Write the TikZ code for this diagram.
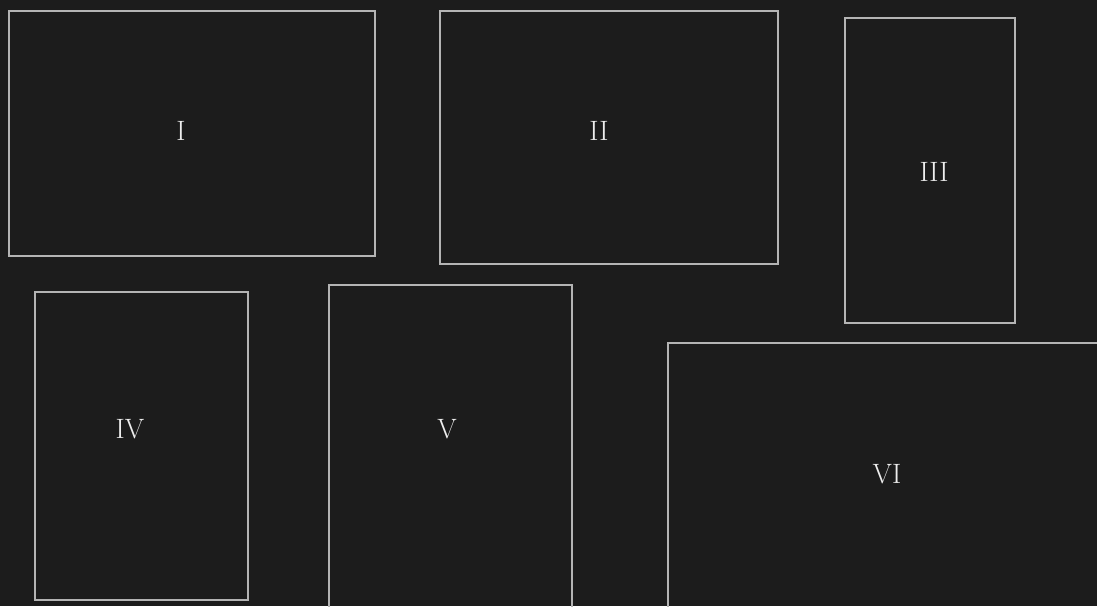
\documentclass[tikz,border=0pt]{standalone}
\definecolor{bgcol}{HTML}{1C1C1C}
\definecolor{edgecol}{HTML}{B4B4B4}
\definecolor{txtcol}{HTML}{EDEDED}
\tikzset{
  box/.style={draw=edgecol, line width=1.6pt, anchor=north west, inner sep=0pt},
  lbl/.style={text=txtcol, font=\fontsize{28}{32}\selectfont}
}
\begin{document}
\begin{tikzpicture}[x=1pt, y=-1pt]
        \useasboundingbox (0,0) rectangle (1097,606);
        \clip (0,0) rectangle (1097,606);
        \fill[bgcol] (0,0) rectangle (1097,606);
        \node[box, minimum width=366pt, minimum height=245pt] (BI) at (8,10) {};
        \node[box, minimum width=338pt, minimum height=253pt] (BII) at (439,10) {};
        \node[box, minimum width=170pt, minimum height=305pt] (BIII) at (844,17) {};
        \node[box, minimum width=213pt, minimum height=308pt] (BIV) at (34,291) {};
        \node[box, minimum width=243pt, minimum height=340pt] (BV) at (328,284) {};
        \node[box, minimum width=460pt, minimum height=300pt] (BVI) at (667,342) {};
        \node[lbl] (LI) at (181,131) {I};
        \node[lbl] (LII) at (599,131) {II};
        \node[lbl] (LIII) at (934,172) {III};
        \node[lbl] (LIV) at (130,429) {IV};
        \node[lbl] (LV) at (447,429) {V};
        \node[lbl] (LVI) at (887,474) {VI};
    \end{tikzpicture}
\end{document}
